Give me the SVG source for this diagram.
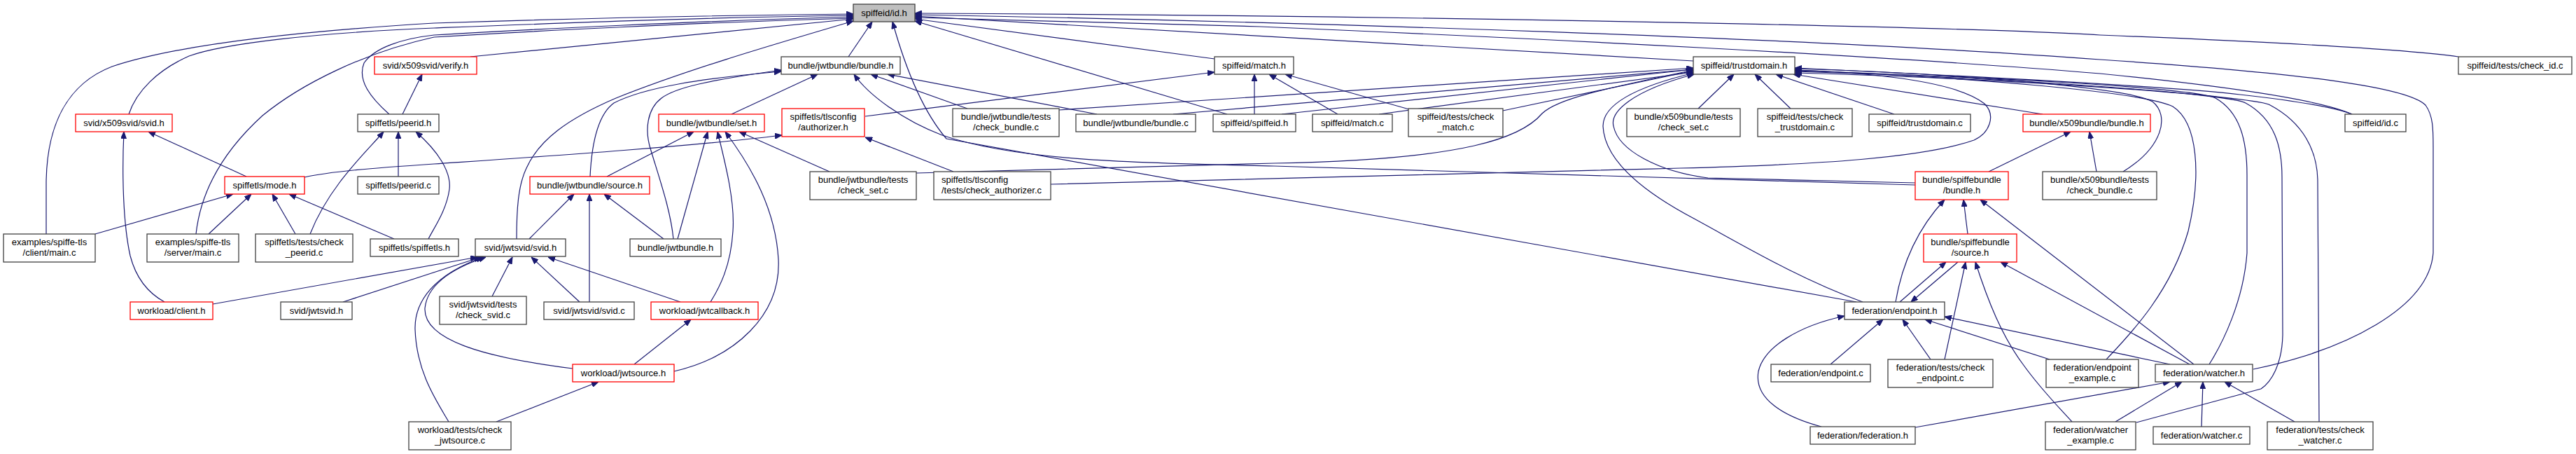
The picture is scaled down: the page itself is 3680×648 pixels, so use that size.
<svg xmlns="http://www.w3.org/2000/svg" width="3680" height="648" viewBox="0 0 3680 648">
<style>
rect{stroke-width:1.3}
.nb rect{fill:#fff;stroke:#404040}
.nr rect{fill:#fff;stroke:#ff0000}
.root rect{fill:#bfbfbf;stroke:#404040}
text{font-family:"Liberation Sans",Arial,Helvetica,sans-serif;font-size:13px;text-anchor:middle;fill:#000}
.la text{text-anchor:start}
#edges path{fill:none;stroke:#191970;stroke-width:1.2;marker-start:url(#ah)}
</style>
<defs>
<marker id="ah" viewBox="0 0 10 8" refX="10" refY="4" markerWidth="10" markerHeight="8" markerUnits="userSpaceOnUse" orient="auto-start-reverse"><path d="M0,0 L10,4 L0,8 z" fill="#191970" stroke="#191970" stroke-width="1"/></marker>
</defs>
<rect x="0" y="0" width="3680" height="648" fill="#fff"/>
<g id="edges">
<path d="M1219,27 L672,81"/>
<path d="M1246,31 L1212,81"/>
<path d="M1307,27 L1735,84"/>
<path d="M1307,23 L2419,87"/>
<path d="M1307,19 C2000,22 2800,38 3000,50 C3300,62 3450,72 3512,81"/>
<path d="M1219,22 C1000,25 800,33 620,40 C450,47 320,62 270,80 C225,100 195,130 184,163"/>
<path d="M1219,24 C1000,30 750,42 620,50 C575,55 535,68 520,90 C510,115 530,140 556,163"/>
<path d="M1219,20 C1000,22 800,27 620,33 C420,45 250,65 160,95 C95,120 67,180 66,260 L66,334"/>
<path d="M1219,26 C1000,32 750,45 620,53 C520,75 430,120 375,165 C320,215 287,270 280,334"/>
<path d="M1219,30 C1100,65 980,100 880,140 C810,170 770,200 752,240 C740,265 738,300 738,341"/>
<path d="M1307,30 L1753,163"/>
<path d="M1275,31 C1290,85 1315,155 1352,198 L2652,431"/>
<path d="M1307,21 C1900,32 2600,55 3000,85 C3300,105 3440,125 3465,150 C3476,165 3476,185 3476,210 L3476,361 C3470,440 3350,500 3219,527"/>
<path d="M1307,25 C1550,30 1700,35 1800,38 C2200,55 2700,80 3000,105 C3200,125 3320,145 3360,163"/>
<path d="M1735,103 L1236,166"/>
<path d="M1792,106 L1792,163"/>
<path d="M1813,106 L1911,163"/>
<path d="M1836,106 L2013,156"/>
<path d="M1168,106 L1045,163"/>
<path d="M1244,106 L1382,155"/>
<path d="M1268,106 L1567,163"/>
<path d="M1116,102 C1000,112 920,125 877,147 C852,165 845,210 843,252"/>
<path d="M1116,100 C1010,115 965,125 945,140 C925,155 920,185 930,215 C942,255 958,300 962,341"/>
<path d="M1220,106 C1240,135 1290,172 1346,193 C1460,232 1650,233 1820,237 C2100,245 2400,255 2736,264"/>
<path d="M991,188 L867,252"/>
<path d="M1011,188 L968,341"/>
<path d="M1025,188 C1038,240 1050,290 1047,330 C1044,380 1028,410 1015,431"/>
<path d="M1036,188 C1075,240 1108,300 1112,370 C1116,450 1050,510 963,530"/>
<path d="M1056,188 L1185,245"/>
<path d="M1117,193 C980,210 750,225 620,234 C530,240 470,245 435,253"/>
<path d="M1236,196 L1362,245"/>
<path d="M603,106 L575,163"/>
<path d="M569,188 L569,252"/>
<path d="M548,188 C525,215 470,265 443,334"/>
<path d="M594,188 C625,215 645,245 642,270 C638,300 620,325 612,341"/>
<path d="M212,188 L352,252"/>
<path d="M177,188 C174,250 176,320 186,365 C195,400 215,420 235,431"/>
<path d="M333,277 L136,334"/>
<path d="M359,277 L298,334"/>
<path d="M389,277 L422,334"/>
<path d="M413,277 L563,341"/>
<path d="M820,277 L756,341"/>
<path d="M842,277 L842,431"/>
<path d="M863,277 L948,341"/>
<path d="M682,367 L304,434"/>
<path d="M687,367 L490,431"/>
<path d="M732,367 L703,423"/>
<path d="M759,367 L828,431"/>
<path d="M783,367 L972,431"/>
<path d="M694,367 C640,385 610,410 607,440 C605,485 690,510 818,526"/>
<path d="M690,367 C620,392 592,430 593,470 C595,530 622,570 641,602"/>
<path d="M987,456 L906,520"/>
<path d="M855,545 L709,602"/>
<path d="M2419,99 L1831,163"/>
<path d="M2419,103 L1970,163"/>
<path d="M2419,101 L2147,158"/>
<path d="M2419,97 L1512,157"/>
<path d="M2419,99 L1676,163"/>
<path d="M2419,100 C2300,125 2225,140 2203,162 C2175,195 2100,228 1820,233 L1309,247"/>
<path d="M2477,106 L2426,155"/>
<path d="M2507,106 L2558,155"/>
<path d="M2537,106 L2706,163"/>
<path d="M2562,106 L2918,163"/>
<path d="M2420,106 C2330,130 2300,160 2305,180 C2312,215 2370,245 2440,254 L2736,261"/>
<path d="M2420,104 C2320,128 2290,155 2290,180 C2292,230 2350,275 2420,312 C2490,350 2570,398 2661,431"/>
<path d="M2564,100 C2700,105 2800,120 2835,148 C2852,165 2842,190 2820,200 C2750,225 2600,235 2400,240 C2100,248 1800,258 1501,263"/>
<path d="M2564,97 C2800,108 3100,123 3200,135 C3290,145 3340,155 3360,163"/>
<path d="M2564,98 C2800,105 3040,125 3075,145 C3100,165 3090,210 3033,245"/>
<path d="M2564,100 C2800,110 3060,130 3104,152 C3140,175 3145,250 3126,330 C3100,420 3040,480 3009,513"/>
<path d="M2564,101 C2850,110 3130,125 3165,140 C3200,160 3210,200 3210,250 L3210,361 C3205,430 3175,490 3156,520"/>
<path d="M2564,102 C2900,112 3190,135 3208,147 C3250,170 3260,210 3260,253 L3261,478 C3260,520 3245,545 3230,555 L3052,603"/>
<path d="M2564,104 C2950,115 3230,140 3243,150 C3290,175 3311,215 3311,260 L3313,602"/>
<path d="M2690,456 L2615,520"/>
<path d="M2718,456 L2758,513"/>
<path d="M2750,456 L2928,513"/>
<path d="M2778,452 L3100,520"/>
<path d="M2635,451 C2570,465 2520,495 2512,530 C2505,570 2550,595 2602,609"/>
<path d="M2730,431 L2797,374"/>
<path d="M2780,374 L2714,431"/>
<path d="M2778,285 C2750,315 2720,360 2708,431"/>
<path d="M2805,285 L2811,334"/>
<path d="M2829,285 L3134,520"/>
<path d="M2958,188 L2841,245"/>
<path d="M2985,188 L2995,245"/>
<path d="M2808,374 L2778,513"/>
<path d="M2822,374 C2840,430 2860,480 2890,520 C2915,555 2940,580 2960,602"/>
<path d="M2858,374 L3128,520"/>
<path d="M3117,545 L3022,602"/>
<path d="M3147,545 L3145,609"/>
<path d="M3178,545 L3278,602"/>
<path d="M3100,545 L2736,610"/>
</g>
<g id="n_id_h" class="root"><rect x="1219" y="6" width="88" height="25"/><text x="1263" y="22.5">spiffeid/id.h</text></g>
<g id="n_verify_h" class="nr"><rect x="535" y="81" width="146" height="25"/><text x="608" y="97.5">svid/x509svid/verify.h</text></g>
<g id="n_jbundle_h" class="nb"><rect x="1116" y="81" width="170" height="25"/><text x="1201" y="97.5">bundle/jwtbundle/bundle.h</text></g>
<g id="n_match_h" class="nb"><rect x="1735" y="81" width="113" height="25"/><text x="1791.5" y="97.5">spiffeid/match.h</text></g>
<g id="n_td_h" class="nb"><rect x="2419" y="81" width="145" height="25"/><text x="2491.5" y="97.5">spiffeid/trustdomain.h</text></g>
<g id="n_check_id" class="nb"><rect x="3512" y="81" width="162" height="25"/><text x="3593" y="97.5">spiffeid/tests/check_id.c</text></g>
<g id="n_x509svid_h" class="nr"><rect x="108" y="163" width="138" height="25"/><text x="177" y="179.5">svid/x509svid/svid.h</text></g>
<g id="n_peerid_h" class="nb"><rect x="511" y="163" width="116" height="25"/><text x="569" y="179.5">spiffetls/peerid.h</text></g>
<g id="n_set_h" class="nr"><rect x="941" y="163" width="151" height="25"/><text x="1016.5" y="179.5">bundle/jwtbundle/set.h</text></g>
<g id="n_authz_h" class="nr"><rect x="1117" y="155" width="118" height="40"/><text x="1176" y="171">spiffetls/tlsconfig</text><text x="1176" y="186">/authorizer.h</text></g>
<g id="n_jcheck_bundle" class="nb"><rect x="1361" y="155" width="152" height="40"/><text x="1437" y="171">bundle/jwtbundle/tests</text><text x="1437" y="186">/check_bundle.c</text></g>
<g id="n_jbundle_c" class="nb"><rect x="1537" y="163" width="171" height="25"/><text x="1622.5" y="179.5">bundle/jwtbundle/bundle.c</text></g>
<g id="n_spiffeid_h" class="nb"><rect x="1733" y="163" width="118" height="25"/><text x="1792" y="179.5">spiffeid/spiffeid.h</text></g>
<g id="n_match_c" class="nb"><rect x="1875" y="163" width="114" height="25"/><text x="1932" y="179.5">spiffeid/match.c</text></g>
<g id="n_check_match" class="nb"><rect x="2012" y="155" width="135" height="40"/><text x="2079.5" y="171">spiffeid/tests/check</text><text x="2079.5" y="186">_match.c</text></g>
<g id="n_xcheck_set" class="nb"><rect x="2324" y="155" width="162" height="40"/><text x="2405" y="171">bundle/x509bundle/tests</text><text x="2405" y="186">/check_set.c</text></g>
<g id="n_check_td" class="nb"><rect x="2511" y="155" width="135" height="40"/><text x="2578.5" y="171">spiffeid/tests/check</text><text x="2578.5" y="186">_trustdomain.c</text></g>
<g id="n_td_c" class="nb"><rect x="2670" y="163" width="145" height="25"/><text x="2742.5" y="179.5">spiffeid/trustdomain.c</text></g>
<g id="n_xbundle_h" class="nr"><rect x="2890" y="163" width="182" height="25"/><text x="2981" y="179.5">bundle/x509bundle/bundle.h</text></g>
<g id="n_id_c" class="nb"><rect x="3350" y="163" width="87" height="25"/><text x="3393.5" y="179.5">spiffeid/id.c</text></g>
<g id="n_mode_h" class="nr"><rect x="321" y="252" width="114" height="25"/><text x="378" y="268.5">spiffetls/mode.h</text></g>
<g id="n_peerid_c" class="nb"><rect x="511" y="252" width="116" height="25"/><text x="569" y="268.5">spiffetls/peerid.c</text></g>
<g id="n_jsource_h" class="nr"><rect x="757" y="252" width="171" height="25"/><text x="842.5" y="268.5">bundle/jwtbundle/source.h</text></g>
<g id="n_jcheck_set" class="nb"><rect x="1157" y="245" width="152" height="40"/><text x="1233" y="261">bundle/jwtbundle/tests</text><text x="1233" y="276">/check_set.c</text></g>
<g id="n_check_authz" class="nb la"><rect x="1334" y="245" width="167" height="40"/><text x="1345" y="261">spiffetls/tlsconfig</text><text x="1345" y="276">/tests/check_authorizer.c</text></g>
<g id="n_sb_bundle" class="nr"><rect x="2736" y="245" width="133" height="40"/><text x="2802.5" y="261">bundle/spiffebundle</text><text x="2802.5" y="276">/bundle.h</text></g>
<g id="n_xcheck_bundle" class="nb"><rect x="2918" y="245" width="163" height="40"/><text x="2999.5" y="261">bundle/x509bundle/tests</text><text x="2999.5" y="276">/check_bundle.c</text></g>
<g id="n_client_main" class="nb"><rect x="5" y="334" width="131" height="40"/><text x="70.5" y="350">examples/spiffe-tls</text><text x="70.5" y="365">/client/main.c</text></g>
<g id="n_server_main" class="nb"><rect x="210" y="334" width="131" height="40"/><text x="275.5" y="350">examples/spiffe-tls</text><text x="275.5" y="365">/server/main.c</text></g>
<g id="n_check_peerid" class="nb"><rect x="365" y="334" width="139" height="40"/><text x="434.5" y="350">spiffetls/tests/check</text><text x="434.5" y="365">_peerid.c</text></g>
<g id="n_spiffetls_h" class="nb"><rect x="529" y="341" width="126" height="25"/><text x="592" y="357.5">spiffetls/spiffetls.h</text></g>
<g id="n_jwtsvid_svid_h" class="nb"><rect x="679" y="341" width="129" height="25"/><text x="743.5" y="357.5">svid/jwtsvid/svid.h</text></g>
<g id="n_jwtbundle_h" class="nb"><rect x="900" y="341" width="130" height="25"/><text x="965" y="357.5">bundle/jwtbundle.h</text></g>
<g id="n_sb_source" class="nr"><rect x="2748" y="334" width="133" height="40"/><text x="2814.5" y="350">bundle/spiffebundle</text><text x="2814.5" y="365">/source.h</text></g>
<g id="n_wl_client" class="nr"><rect x="186" y="431" width="118" height="25"/><text x="245" y="447.5">workload/client.h</text></g>
<g id="n_jwtsvid_h" class="nb"><rect x="401" y="431" width="102" height="25"/><text x="452" y="447.5">svid/jwtsvid.h</text></g>
<g id="n_check_svid" class="nb"><rect x="628" y="423" width="124" height="40"/><text x="690" y="439">svid/jwtsvid/tests</text><text x="690" y="454">/check_svid.c</text></g>
<g id="n_jwtsvid_svid_c" class="nb"><rect x="777" y="431" width="129" height="25"/><text x="841.5" y="447.5">svid/jwtsvid/svid.c</text></g>
<g id="n_jwtcallback" class="nr"><rect x="930" y="431" width="153" height="25"/><text x="1006.5" y="447.5">workload/jwtcallback.h</text></g>
<g id="n_endpoint_h" class="nb"><rect x="2635" y="431" width="143" height="25"/><text x="2706.5" y="447.5">federation/endpoint.h</text></g>
<g id="n_jwtsource" class="nr"><rect x="818" y="520" width="145" height="25"/><text x="890.5" y="536.5">workload/jwtsource.h</text></g>
<g id="n_endpoint_c" class="nb"><rect x="2530" y="520" width="142" height="25"/><text x="2601" y="536.5">federation/endpoint.c</text></g>
<g id="n_check_endpoint" class="nb"><rect x="2697" y="513" width="150" height="40"/><text x="2772" y="529">federation/tests/check</text><text x="2772" y="544">_endpoint.c</text></g>
<g id="n_endpoint_example" class="nb"><rect x="2923" y="513" width="132" height="40"/><text x="2989" y="529">federation/endpoint</text><text x="2989" y="544">_example.c</text></g>
<g id="n_watcher_h" class="nb"><rect x="3079" y="520" width="139" height="25"/><text x="3148.5" y="536.5">federation/watcher.h</text></g>
<g id="n_check_jwtsource" class="nb"><rect x="584" y="602" width="146" height="40"/><text x="657" y="618">workload/tests/check</text><text x="657" y="633">_jwtsource.c</text></g>
<g id="n_federation_h" class="nb"><rect x="2586" y="609" width="150" height="25"/><text x="2661" y="625.5">federation/federation.h</text></g>
<g id="n_watcher_example" class="nb"><rect x="2922" y="602" width="129" height="40"/><text x="2986.5" y="618">federation/watcher</text><text x="2986.5" y="633">_example.c</text></g>
<g id="n_watcher_c" class="nb"><rect x="3076" y="609" width="138" height="25"/><text x="3145" y="625.5">federation/watcher.c</text></g>
<g id="n_check_watcher" class="nb"><rect x="3239" y="602" width="151" height="40"/><text x="3314.5" y="618">federation/tests/check</text><text x="3314.5" y="633">_watcher.c</text></g>
</svg>
